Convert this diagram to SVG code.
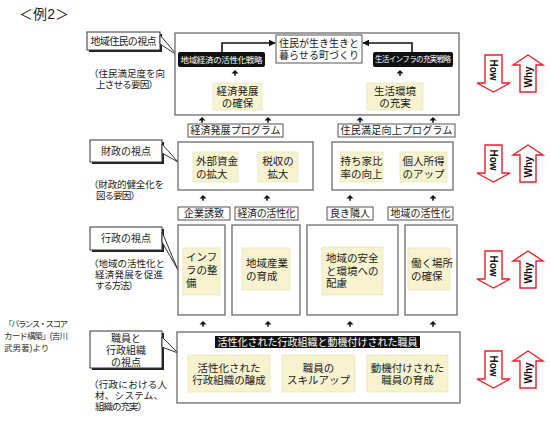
<svg xmlns="http://www.w3.org/2000/svg" width="550" height="425" viewBox="0 0 550 425">
<style>
text{font-family:"Liberation Sans","Noto Sans CJK JP","Noto Sans CJK SC",sans-serif;fill:#1a1a1a;}
.t{font-size:10px;text-anchor:middle;dominant-baseline:central;}
.ts{font-size:9.5px;dominant-baseline:central;}
.tl{font-size:10.5px;dominant-baseline:central;}
.main{fill:#fff;stroke:#6a6a6a;stroke-width:1.3;}
.lab{fill:#fff;stroke:#555;stroke-width:1;}
.yel{fill:#f7f2cf;stroke:#e6dfb0;stroke-width:0.6;}
.blk{fill:#111;}
.wt{fill:#fff;font-size:8.5px;text-anchor:middle;dominant-baseline:central;}
.cs{fill:#222;}
.cb{fill:#fff;stroke:#333;stroke-width:1;}
.arw{fill:#fff;stroke:#e8202a;stroke-width:1.4;stroke-linejoin:miter;}
.hw{font-family:"Liberation Sans",Arial,sans-serif;font-weight:bold;font-size:10px;fill:#111;text-anchor:middle;dominant-baseline:central;}
.ln{fill:none;stroke:#111;stroke-width:1.6;}
</style>
<defs>
<marker id="ah" viewBox="0 0 10 10" refX="9" refY="5" markerWidth="7" markerHeight="7" markerUnits="userSpaceOnUse" orient="auto"><path d="M0,0L10,5L0,10Z" fill="#111"/></marker>
<g id="sa"><path d="M-3.5,1.5L0,-2L3.5,1.5Z" fill="#111"/><rect x="-0.8" y="1.2" width="1.6" height="2.5" fill="#111"/></g>
<g id="how"><path class="arw" d="M485,0H502V28H510L493.5,37L477,28H485Z"/><text class="hw" transform="translate(493.5,15) rotate(90)">How</text></g>
<g id="why"><path class="arw" d="M528,0L543,10H536V37H520V10H513Z"/><text class="hw" transform="translate(528,22) rotate(-90)">Why</text></g>
</defs>
<rect width="550" height="425" fill="#fff"/>
<text x="19" y="14" style="font-size:14px;dominant-baseline:central" textLength="50">＜例2＞</text>

<!-- citation -->
<g id="citation">
<text x="4" y="324" style="font-size:8.5px;fill:#333;dominant-baseline:central" textLength="64">「バランス・スコア</text>
<text x="4" y="336" style="font-size:8.5px;fill:#333;dominant-baseline:central" textLength="64">カード構築」(吉川</text>
<text x="4" y="348" style="font-size:8.5px;fill:#333;dominant-baseline:central">武男著)より</text>
</g>

<!-- perspectives callouts -->
<g id="p1">
<rect class="cs" x="89" y="34" width="73" height="18"/>
<rect class="cb" x="87" y="32" width="73" height="18"/>
<polygon class="cb" points="160,35 177,55 160,44"/>
<text class="t" x="123.5" y="41" textLength="66">地域住民の視点</text>
<text class="ts" x="89" y="73" textLength="76">（住民満足度を向</text>
<text class="ts" x="96" y="84" textLength="62">上させる要因）</text>
</g>
<g id="p2">
<rect class="cs" x="92" y="142" width="72" height="22"/>
<rect class="cb" x="90" y="140" width="72" height="22"/>
<polygon class="cb" points="162,144 178,162 162,153"/>
<text class="t" x="126" y="151" textLength="50">財政の視点</text>
<text class="ts" x="89" y="184" textLength="75">（財政的健全化を</text>
<text class="ts" x="96" y="195" textLength="44">図る要因）</text>
</g>
<g id="p3">
<rect class="cs" x="92" y="229" width="72" height="23"/>
<rect class="cb" x="90" y="227" width="72" height="23"/>
<polygon class="cb" points="162,232 178,270 162,242"/>
<text class="t" x="126" y="238.5" textLength="50">行政の視点</text>
<text class="ts" x="89" y="263" textLength="76">（地域の活性化と</text>
<text class="ts" x="95" y="274" textLength="68">経済発展を促進</text>
<text class="ts" x="95" y="285" textLength="43">する方法）</text>
</g>
<g id="p4">
<rect class="cs" x="92" y="333" width="72" height="37"/>
<rect class="cb" x="90" y="331" width="72" height="37"/>
<polygon class="cb" points="162,337 178,353 162,347"/>
<text class="t" x="126" y="338">職員と</text>
<text class="t" x="126" y="350">行政組織</text>
<text class="t" x="126" y="362">の視点</text>
<text class="ts" x="89" y="384" textLength="78">（行政における人</text>
<text class="ts" x="95" y="395" textLength="68">材、システム、</text>
<text class="ts" x="95" y="406" textLength="52">組織の充実）</text>
</g>

<!-- row 1 -->
<g id="box1"><rect class="main" x="175" y="33" width="284" height="82"/></g>
<g id="goal">
<rect class="lab" x="276" y="35" width="86" height="28"/>
<text class="t" x="319" y="43.5" textLength="80">住民が生き生きと</text>
<text class="t" x="319" y="55.5" textLength="80">暮らせる町づくり</text>
</g>
<g id="strat1"><rect class="blk" x="178" y="52" width="87" height="15" rx="2"/><text class="wt" x="221.5" y="59.5" textLength="82">地域経済の活性化戦略</text></g>
<g id="strat2"><rect class="blk" x="373" y="52" width="80" height="15" rx="2"/><text class="wt" x="413" y="59.5" style="font-size:7.5px" textLength="76">生活インフラの充実戦略</text></g>
<g id="y1a"><rect class="yel" x="213" y="83" width="49" height="27"/><text class="tl" x="237.5" y="90.5" text-anchor="middle">経済発展</text><text class="tl" x="237.5" y="103" text-anchor="middle">の確保</text></g>
<g id="y1b"><rect class="yel" x="367" y="83" width="56" height="27"/><text class="tl" x="395" y="90.5" text-anchor="middle">生活環境</text><text class="tl" x="395" y="103" text-anchor="middle">の充実</text></g>

<!-- row 2 -->
<g id="prog1"><rect class="lab" x="188" y="124" width="95" height="13"/><text class="t" x="235.5" y="130.5" textLength="90">経済発展プログラム</text></g>
<g id="prog2"><rect class="lab" x="338" y="124" width="117" height="13"/><text class="t" x="396.5" y="130.5" textLength="112">住民満足向上プログラム</text></g>
<g id="box2a"><rect class="main" x="178" y="142" width="135" height="48"/></g>
<g id="box2b"><rect class="main" x="332" y="142" width="121" height="48"/></g>
<g id="y2a"><rect class="yel" x="193" y="152" width="45" height="30"/><text class="tl" x="196" y="161">外部資金</text><text class="tl" x="196" y="173.5">の拡大</text></g>
<g id="y2b"><rect class="yel" x="258" y="152" width="40" height="30"/><text class="tl" x="278" y="161" text-anchor="middle">税収の</text><text class="tl" x="278" y="173.5" text-anchor="middle">拡大</text></g>
<g id="y2c"><rect class="yel" x="340" y="152" width="43" height="30"/><text class="tl" x="361.5" y="161" text-anchor="middle">持ち家比</text><text class="tl" x="361.5" y="173.5" text-anchor="middle">率の向上</text></g>
<g id="y2d"><rect class="yel" x="400" y="152" width="47" height="30"/><text class="tl" x="423.5" y="161" text-anchor="middle">個人所得</text><text class="tl" x="423.5" y="173.5" text-anchor="middle">のアップ</text></g>

<!-- row 3 -->
<g id="l3a"><rect class="lab" x="178" y="207" width="52" height="13"/><text class="t" x="204" y="213.5">企業誘致</text></g>
<g id="l3b"><rect class="lab" x="235" y="207" width="63" height="13"/><text class="t" x="266.5" y="213.5" textLength="58">経済の活性化</text></g>
<g id="l3c"><rect class="lab" x="327" y="207" width="46" height="13"/><text class="t" x="350" y="213.5">良き隣人</text></g>
<g id="l3d"><rect class="lab" x="388" y="207" width="65" height="13"/><text class="t" x="420.5" y="213.5" textLength="60">地域の活性化</text></g>
<g id="box3a"><rect class="main" x="178" y="225" width="47" height="90"/><rect class="yel" x="183" y="248" width="37" height="47"/><text class="tl" x="186" y="257">インフ</text><text class="tl" x="186" y="270">ラの整</text><text class="tl" x="186" y="283">備</text></g>
<g id="box3b"><rect class="main" x="232" y="225" width="68" height="90"/><rect class="yel" x="242" y="248" width="48" height="42"/><text class="tl" x="246" y="263">地域産業</text><text class="tl" x="246" y="276">の育成</text></g>
<g id="box3c"><rect class="main" x="307" y="225" width="91" height="90"/><rect class="yel" x="322" y="247" width="61" height="48"/><text class="tl" x="326" y="258">地域の安全</text><text class="tl" x="326" y="270.5">と環境への</text><text class="tl" x="326" y="283">配慮</text></g>
<g id="box3d"><rect class="main" x="405" y="225" width="52" height="90"/><rect class="yel" x="408" y="248" width="42" height="42"/><text class="tl" x="411" y="263">働く場所</text><text class="tl" x="411" y="276">の確保</text></g>

<!-- row 4 -->
<g id="box4"><rect class="main" x="177" y="332" width="283" height="71"/></g>
<g id="hdr4"><rect class="blk" x="215" y="336" width="205" height="12"/><text class="wt" x="317.5" y="342" style="font-size:10px" textLength="200">活性化された行政組織と動機付けされた職員</text></g>
<g id="y4a"><rect class="yel" x="188" y="355" width="82" height="37"/><text class="tl" x="229" y="367.5" text-anchor="middle">活性化された</text><text class="tl" x="229" y="380" text-anchor="middle">行政組織の醸成</text></g>
<g id="y4b"><rect class="yel" x="282" y="355" width="73" height="37"/><text class="tl" x="318.5" y="367.5" text-anchor="middle">職員の</text><text class="tl" x="318.5" y="380" text-anchor="middle">スキルアップ</text></g>
<g id="y4c"><rect class="yel" x="367" y="355" width="81" height="37"/><text class="tl" x="407.5" y="367.5" text-anchor="middle">動機付けされた</text><text class="tl" x="407.5" y="380" text-anchor="middle">職員の育成</text></g>

<!-- connectors -->
<g id="connectors">
<path class="ln" d="M222,52V43H275" marker-end="url(#ah)"/>
<path class="ln" d="M412,52V43H363" marker-end="url(#ah)"/>
<use href="#sa" x="235" y="72"/>
<use href="#sa" x="400" y="72"/>
<use href="#sa" x="202" y="119"/>
<use href="#sa" x="268" y="119"/>
<use href="#sa" x="360" y="119"/>
<use href="#sa" x="433" y="119"/>
<use href="#sa" x="203" y="197"/>
<use href="#sa" x="267" y="197"/>
<use href="#sa" x="350" y="197"/>
<use href="#sa" x="433" y="197"/>
<use href="#sa" x="203" y="323"/>
<use href="#sa" x="268" y="323"/>
<use href="#sa" x="350" y="323"/>
<use href="#sa" x="433" y="323"/>
</g>

<!-- How / Why -->
<g id="hw1"><use href="#how" y="55"/><use href="#why" y="55"/></g>
<g id="hw2"><use href="#how" y="145"/><use href="#why" y="145"/></g>
<g id="hw3"><use href="#how" y="251"/><use href="#why" y="251"/></g>
<g id="hw4"><use href="#how" y="351"/><use href="#why" y="351"/></g>
</svg>
